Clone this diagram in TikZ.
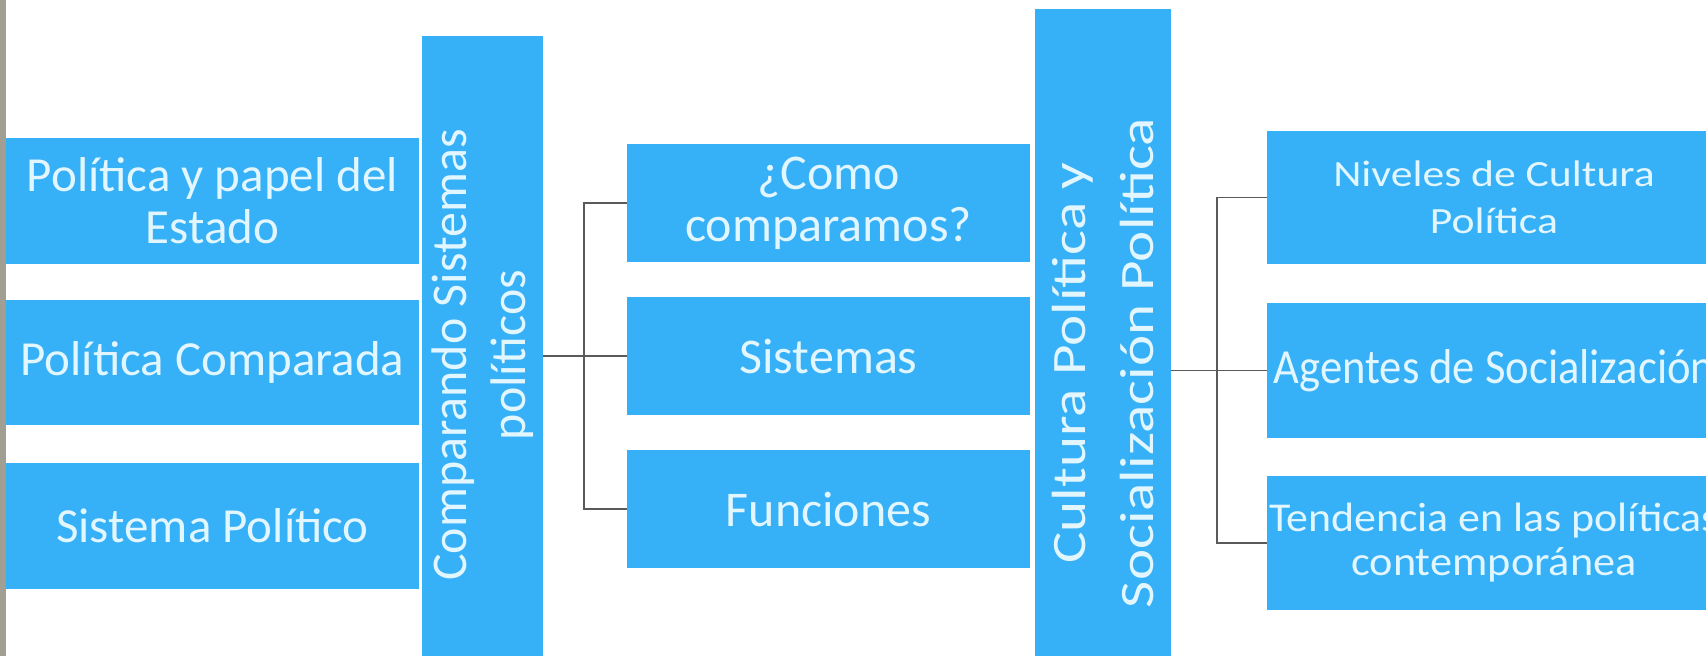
\documentclass[tikz,border=0pt]{standalone}
\usepackage{fontspec}
\setmainfont{Carlito}
\usepackage{graphicx}
\definecolor{boxblue}{HTML}{36B0F6}
\definecolor{txtcol}{HTML}{E2F6FF}
\definecolor{linecol}{HTML}{5A5A5A}
\definecolor{edgegray}{HTML}{A19F93}
\tikzset{
  hbox/.style={fill=boxblue, inner sep=0pt, text=txtcol, align=center},
  vbar/.style={fill=boxblue, inner sep=0pt, text=txtcol, align=center, rotate=90},
  conn/.style={draw=linecol, line width=1.8pt}
}
\begin{document}
\begin{tikzpicture}[x=1pt,y=-1pt]
\useasboundingbox (0,0) rectangle (1706,656);
\clip (0,0) rectangle (1706,656);
\fill[white] (0,0) rectangle (1706,656);
\fill[edgegray] (0,0) rectangle (6,656);

% left column
\node[hbox, minimum width=413, minimum height=126, font=\fontsize{49}{52}\selectfont] (L1) at (212.5,201) {Política y papel del\\Estado};
\node[hbox, minimum width=413, minimum height=125, font=\fontsize{49}{52}\selectfont] (L2) at (212.5,362.5) {Política Comparada};
\node[hbox, minimum width=413, minimum height=126, font=\fontsize{49}{52}\selectfont] (L3) at (212.5,526) {Sistema Político};

% first vertical bar
\node[vbar, minimum width=638, minimum height=121, font=\fontsize{50}{59}\selectfont] (B1) at (482.5,355) {Comparando Sistemas\\políticos};

% middle column
\node[hbox, minimum width=403, minimum height=118, font=\fontsize{50}{52}\selectfont] (M1) at (828.5,203) {¿Como\\comparamos?};
\node[hbox, minimum width=403, minimum height=118, font=\fontsize{50}{52}\selectfont] (M2) at (828.5,356) {Sistemas};
\node[hbox, minimum width=403, minimum height=118, font=\fontsize{50}{52}\selectfont] (M3) at (828.5,509) {Funciones};

% second vertical bar
\node[vbar, minimum width=708, minimum height=136, font=\fontsize{48}{68}\selectfont] (B2) at (1103,363) {\scalebox{1.23}[1]{Cultura Política y}\\\scalebox{1.23}[1]{Socialización Política}};

% right column
\node[hbox, minimum width=454, minimum height=133, font=\fontsize{37}{47}\selectfont] (R1) at (1494,197.5) {\scalebox{1.18}[1]{Niveles de Cultura}\\\scalebox{1.18}[1]{Política}};
\node[hbox, minimum width=454, minimum height=135, font=\fontsize{49}{50}\selectfont] (R2) at (1494,370.5) {\scalebox{0.91}[1]{Agentes de Socialización}};
\node[hbox, minimum width=454, minimum height=134, font=\fontsize{41}{44}\selectfont] (R3) at (1494,543) {\scalebox{1.07}[1]{Tendencia en las políticas}\\\scalebox{1.08}[1]{contemporánea}};

% connectors, left tree
\coordinate (J1) at (584,356);
\draw[conn] (M2.west -| B1.south) -- (M2.west);
\draw[conn] (M1.west) -| (J1) |- (M3.west);

% connectors, right tree
\coordinate (J2) at (1217,370.5);
\draw[conn] (R2.west -| B2.south) -- (R2.west);
\draw[conn] (R1.west) -| (J2) |- (R3.west);
\end{tikzpicture}
\end{document}
